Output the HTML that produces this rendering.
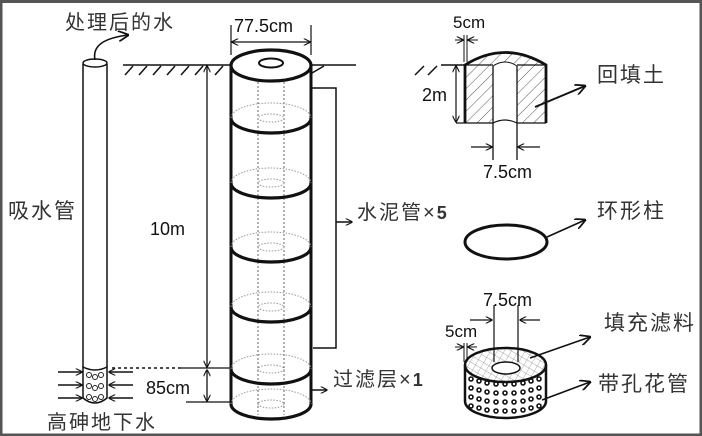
<!DOCTYPE html>
<html><head><meta charset="utf-8"><style>
html,body{margin:0;padding:0;background:#fff}
svg{display:block}
text{font-family:"Liberation Sans","Noto Sans CJK SC",sans-serif;fill:#111}
.cn{font-family:"Liberation Sans","Noto Sans CJK SC",sans-serif;font-size:20px;letter-spacing:2px;fill:#333}
</style></head><body>
<svg width="702" height="436" viewBox="0 0 702 436" xmlns="http://www.w3.org/2000/svg">
<defs>
<marker id="a" viewBox="0 0 10 10" refX="9" refY="5" markerWidth="7" markerHeight="7" orient="auto-start-reverse" markerUnits="userSpaceOnUse"><path d="M0,0 L10,5 L0,10" fill="none" stroke="#111" stroke-width="1.6"/></marker>
<marker id="b" viewBox="0 0 10 10" refX="9" refY="5" markerWidth="11" markerHeight="11" orient="auto-start-reverse" markerUnits="userSpaceOnUse"><path d="M0,0 L10,5 L0,10" fill="none" stroke="#111" stroke-width="1.6"/></marker>
<pattern id="h" width="8" height="8" patternUnits="userSpaceOnUse" patternTransform="rotate(45)"><line x1="0" y1="0" x2="0" y2="8" stroke="#555" stroke-width="1"/></pattern>
<pattern id="x" width="6" height="6" patternUnits="userSpaceOnUse" patternTransform="rotate(30)"><path d="M0,0 L0,6 M0,0 L6,0" stroke="#888" stroke-width="0.7"/></pattern>
</defs>
<rect x="0" y="0" width="702" height="436" fill="none" stroke="#555" stroke-width="5"/>
<rect x="0" y="0" width="702" height="3" fill="#555"/>

<text class="cn" x="65" y="29">处理后的水</text>
<path d="M83,64 V367 M107,64 V367" stroke="#111" stroke-width="1.5" fill="none"/>
<ellipse cx="95" cy="63" rx="12" ry="4" fill="#fff" stroke="#111" stroke-width="1.5"/>
<path d="M95,60 C92,45 105,38 128,35" fill="none" stroke="#111" stroke-width="1.6" marker-end="url(#b)"/>
<path d="M83,367 Q95,373 107,367 V398 Q95,408 83,398 Z" fill="#fff" stroke="#111" stroke-width="1.5"/>
<g fill="none" stroke="#222" stroke-width="1">
<circle cx="89" cy="375" r="2.5"/><circle cx="95" cy="377" r="2.5"/><circle cx="101" cy="375" r="2.5"/>
<circle cx="89" cy="386" r="2.5"/><circle cx="95" cy="388" r="2.5"/><circle cx="101" cy="386" r="2.5"/>
<circle cx="89" cy="397" r="2.5"/><circle cx="95" cy="399" r="2.5"/><circle cx="101" cy="397" r="2.5"/>
</g>
<g stroke="#111" stroke-width="1.5" marker-end="url(#a)">
<line x1="58" y1="372" x2="82" y2="372"/><line x1="58" y1="385" x2="82" y2="385"/><line x1="58" y1="398" x2="82" y2="398"/>
<line x1="133" y1="372" x2="109" y2="372"/><line x1="133" y1="385" x2="109" y2="385"/><line x1="133" y1="398" x2="109" y2="398"/>
</g>
<text class="cn" x="8" y="218" style="font-size:21px">吸水管</text>
<text class="cn" x="47" y="429">高砷地下水</text>

<path d="M123,65 H231 M311,65 H356" stroke="#111" stroke-width="1.5"/>
<g stroke="#111" stroke-width="1.5">
<line x1="125" y1="75" x2="133" y2="66"/><line x1="139" y1="75" x2="147" y2="66"/><line x1="153" y1="75" x2="161" y2="66"/><line x1="167" y1="75" x2="175" y2="66"/><line x1="181" y1="75" x2="189" y2="66"/><line x1="195" y1="75" x2="203" y2="66"/><line x1="215" y1="75" x2="223" y2="66"/>
<line x1="312" y1="73" x2="324" y2="66"/>
</g>

<line x1="207" y1="66" x2="207" y2="367" stroke="#111" stroke-width="1.3" marker-start="url(#a)" marker-end="url(#a)"/>
<text x="150" y="235" style="font-size:18px">10m</text>
<line x1="207" y1="370" x2="207" y2="401" stroke="#111" stroke-width="1.3" marker-start="url(#a)" marker-end="url(#a)"/>
<text x="146" y="394" style="font-size:18px">85cm</text>
<line x1="112" y1="368" x2="181" y2="368" stroke="#111" stroke-width="1.5" stroke-dasharray="3,3"/>
<line x1="181" y1="368" x2="231" y2="368" stroke="#111" stroke-width="1.3"/>
<line x1="186" y1="402" x2="231" y2="402" stroke="#111" stroke-width="1.3"/>

<text x="234" y="32" style="font-size:18px">77.5cm</text>
<path d="M231,25 V55 M311,25 V55" stroke="#111" stroke-width="1.2"/>
<line x1="232" y1="42" x2="310" y2="42" stroke="#111" stroke-width="1.3" marker-start="url(#a)" marker-end="url(#a)"/>

<path d="M231,65 V404 M311,65 V404" stroke="#111" stroke-width="3"/>
<path d="M258,66 V415 M284,66 V415" stroke="#666" stroke-width="1" stroke-dasharray="2,2"/>
<g fill="none">
<g stroke="#999" stroke-width="1" stroke-dasharray="1.5,1.5">
<path d="M231,118 A40,15 0 0 1 311,118"/><ellipse cx="271" cy="118" rx="13" ry="4"/>
<path d="M231,183 A40,15 0 0 1 311,183"/><ellipse cx="271" cy="183" rx="13" ry="4"/>
<path d="M231,247 A40,15 0 0 1 311,247"/><ellipse cx="271" cy="247" rx="13" ry="4"/>
<path d="M231,307 A40,15 0 0 1 311,307"/><ellipse cx="271" cy="307" rx="13" ry="4"/>
<path d="M231,369 A40,15 0 0 1 311,369"/><ellipse cx="271" cy="369" rx="13" ry="4"/>
<path d="M231,404 A40,15 0 0 1 311,404"/><ellipse cx="271" cy="404" rx="13" ry="4"/>
</g>
<g stroke="#111" stroke-width="3.2">
<path d="M231,118 A40,15 0 0 0 311,118"/>
<path d="M231,183 A40,15 0 0 0 311,183"/>
<path d="M231,247 A40,15 0 0 0 311,247"/>
<path d="M231,307 A40,15 0 0 0 311,307"/>
<path d="M231,369 A40,15 0 0 0 311,369"/>
<path d="M231,404 A40,15 0 0 0 311,404"/>
</g>
<ellipse cx="271" cy="65.5" rx="40" ry="15.5" fill="#fff" stroke="#111" stroke-width="3.2"/>
<ellipse cx="271" cy="63" rx="12" ry="4.5" stroke="#111" stroke-width="2"/>
</g>
<path d="M312,88 H336 V348 H313" fill="none" stroke="#111" stroke-width="1.5"/>
<line x1="336" y1="222" x2="352" y2="222" stroke="#111" stroke-width="1.5" marker-end="url(#a)"/>
<text class="cn" x="357" y="219">水泥管×<tspan style="font-weight:bold;font-size:18px">5</tspan></text>
<line x1="312" y1="390" x2="327" y2="390" stroke="#111" stroke-width="1.5" marker-end="url(#a)"/>
<text class="cn" x="333" y="386">过滤层×<tspan style="font-weight:bold;font-size:18px">1</tspan></text>

<path d="M465,123 V65 Q505,40 546,65 V123 Z" fill="url(#h)"/>
<path d="M493,123 V66 Q505,58 517,66 V123 Z" fill="#fff"/>
<path d="M465,65 H493 M517,65 H546 M456,123 H493 M517,123 H546" stroke="#111" stroke-width="1.2"/>
<path d="M493,66 V160 M517,66 V160" stroke="#111" stroke-width="1.3"/>
<path d="M493,66 Q505,58 517,66" fill="none" stroke="#111" stroke-width="1"/>
<path d="M493,123 Q505,117 517,123" fill="none" stroke="#111" stroke-width="1.2"/>
<path d="M465,123 V65 Q505,40 546,65 V123" fill="none" stroke="#111" stroke-width="2.8"/>
<path d="M415,75 L424,66 M428,75 L437,66 M441,65 H465" stroke="#111" stroke-width="1.5"/>
<line x1="456" y1="66" x2="456" y2="122" stroke="#111" stroke-width="1.2" marker-start="url(#a)" marker-end="url(#a)"/>
<text x="422" y="101" style="font-size:18px">2m</text>
<text x="453" y="28" style="font-size:17px">5cm</text>
<path d="M464,35 V62 M467,35 V62" stroke="#111" stroke-width="1"/>
<line x1="455" y1="40" x2="463" y2="40" stroke="#111" stroke-width="1" marker-end="url(#a)"/>
<line x1="478" y1="40" x2="468" y2="40" stroke="#111" stroke-width="1" marker-end="url(#a)"/>
<line x1="471" y1="147" x2="492" y2="147" stroke="#111" stroke-width="1.2" marker-end="url(#a)"/>
<line x1="540" y1="147" x2="518" y2="147" stroke="#111" stroke-width="1.2" marker-end="url(#a)"/>
<text x="483" y="178" style="font-size:18px">7.5cm</text>
<line x1="535" y1="107" x2="585" y2="86" stroke="#111" stroke-width="2" marker-end="url(#b)"/>
<text class="cn" x="597" y="82" style="font-size:21px">回填土</text>

<ellipse cx="506" cy="242" rx="41" ry="17" fill="none" stroke="#111" stroke-width="3"/>
<line x1="547" y1="237" x2="585" y2="220" stroke="#111" stroke-width="1.6" marker-end="url(#b)"/>
<text class="cn" x="597" y="218" style="font-size:21px">环形柱</text>

<path d="M465,365 V401 A40.5,17 0 0 0 546,401 V365" fill="#fff" stroke="#111" stroke-width="2.5"/>
<ellipse cx="505.5" cy="365" rx="40.5" ry="17" fill="url(#x)" stroke="#111" stroke-width="2.5"/>
<ellipse cx="506" cy="368" rx="14" ry="6" fill="#fff" stroke="#111" stroke-width="1.5"/>
<g fill="none" stroke="#111" stroke-width="1.6">
<g id="r1"><circle cx="471" cy="388" r="2"/><circle cx="479" cy="390" r="2"/><circle cx="487" cy="392" r="2"/><circle cx="496" cy="393" r="2"/><circle cx="505" cy="393" r="2"/><circle cx="514" cy="393" r="2"/><circle cx="523" cy="392" r="2"/><circle cx="531" cy="390" r="2"/><circle cx="539" cy="388" r="2"/></g>
<use href="#r1" y="9"/><use href="#r1" y="18"/><use href="#r1" y="-9"/>
</g>
<path d="M494,305 V362 M518,305 V362" stroke="#111" stroke-width="1.2"/>
<line x1="470" y1="320" x2="492" y2="320" stroke="#111" stroke-width="1.2" marker-end="url(#a)"/>
<line x1="540" y1="320" x2="520" y2="320" stroke="#111" stroke-width="1.2" marker-end="url(#a)"/>
<text x="483" y="306" style="font-size:18px">7.5cm</text>
<text x="445" y="337" style="font-size:17px">5cm</text>
<path d="M464,343 V362 M467,343 V362" stroke="#111" stroke-width="1"/>
<line x1="455" y1="347" x2="463" y2="347" stroke="#111" stroke-width="1" marker-end="url(#a)"/>
<line x1="477" y1="347" x2="468" y2="347" stroke="#111" stroke-width="1" marker-end="url(#a)"/>
<line x1="530" y1="358" x2="590" y2="337" stroke="#111" stroke-width="1.6" marker-end="url(#b)"/>
<text class="cn" x="604" y="330" style="font-size:21px">填充滤料</text>
<line x1="542" y1="400" x2="590" y2="382" stroke="#111" stroke-width="1.6" marker-end="url(#b)"/>
<text class="cn" x="598" y="391" style="font-size:21px">带孔花管</text>
</svg>
</body></html>
